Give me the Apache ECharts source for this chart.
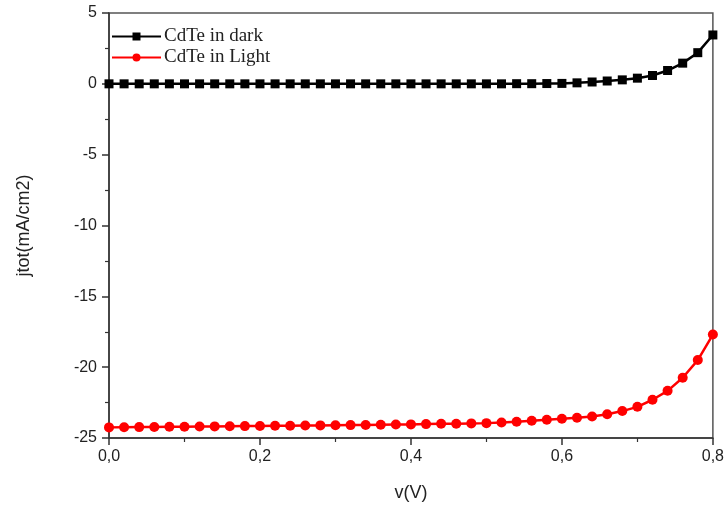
<!DOCTYPE html>
<html>
<head>
<meta charset="utf-8">
<script src="https://cdn.jsdelivr.net/npm/echarts@6/dist/echarts.min.js"></script>
<style>html,body{margin:0;padding:0;background:#fff}#c{width:727px;height:513px}</style>
</head>
<body>
<div id="c"></div>
<script>
const voltage = [0.00,0.02,0.04,0.06,0.08,0.10,0.12,0.14,0.16,0.18,0.20,0.22,0.24,0.26,0.28,0.30,0.32,0.34,0.36,0.38,0.40,0.42,0.44,0.46,0.48,0.50,0.52,0.54,0.56,0.58,0.60,0.62,0.64,0.66,0.68,0.70,0.72,0.74,0.76,0.78,0.80];
const darkJ = [0,0,0,0,0,0,0,0,0,0,0,0,0,0,0,0,0,0,0,0,0,0,0,0,0,0,0,0.01,0.01,0.02,0.03,0.07,0.13,0.2,0.28,0.4,0.59,0.94,1.46,2.2,3.45];
const lightJ = [-24.25,-24.24,-24.23,-24.22,-24.21,-24.2,-24.19,-24.18,-24.17,-24.16,-24.15,-24.14,-24.13,-24.12,-24.11,-24.1,-24.09,-24.08,-24.06,-24.05,-24.04,-24.02,-24.0,-23.99,-23.97,-23.95,-23.9,-23.85,-23.78,-23.71,-23.64,-23.57,-23.48,-23.32,-23.1,-22.8,-22.3,-21.67,-20.75,-19.5,-17.7];
const xTicks = {min:0, max:0.8, interval:0.2};
const yTicks = {min:-25, max:5, interval:5};
const seriesNames = ['CdTe in dark','CdTe in Light'];

const chart = echarts.init(document.getElementById('c'), null, {renderer:'canvas'});
const axisCol = '#333';
const pair = arr => voltage.map((v,i)=>[v,arr[i]]);
chart.setOption({
  animation:false,
  backgroundColor:'#fff',
  grid:{left:109,right:13,top:13,bottom:75,show:true,borderColor:'#555',borderWidth:1.5,backgroundColor:'transparent'},
  legend:{
    orient:'vertical', left:106, top:22, itemWidth:49, itemHeight:10, itemGap:2,
    textStyle:{fontFamily:'Liberation Serif', fontSize:19, color:'#222', padding:[0,0,0,-2]},
    data:seriesNames
  },
  xAxis:{
    type:'value', min:xTicks.min, max:xTicks.max, interval:xTicks.interval,
    name:'v(V)', nameLocation:'middle', nameGap:46,
    nameTextStyle:{fontFamily:'Liberation Sans', fontSize:18, color:'#222'},
    axisLine:{onZero:false,lineStyle:{color:axisCol,width:1.5}},
    axisTick:{length:7,lineStyle:{color:axisCol,width:1.5}},
    minorTick:{show:true,splitNumber:2,length:4,lineStyle:{color:axisCol,width:1.2}},
    splitLine:{show:false},
    axisLabel:{fontFamily:'Liberation Sans', fontSize:16, color:'#222', margin:11,
      formatter:v=>v.toFixed(1).replace('.',',')}
  },
  yAxis:{
    type:'value', min:yTicks.min, max:yTicks.max, interval:yTicks.interval,
    name:'jtot(mA/cm2)', nameLocation:'middle', nameGap:76, nameRotate:90,
    nameTextStyle:{fontFamily:'Liberation Sans', fontSize:18, color:'#222'},
    axisLine:{onZero:false,lineStyle:{color:axisCol,width:1.5}},
    axisTick:{length:7,lineStyle:{color:axisCol,width:1.5}},
    minorTick:{show:true,splitNumber:2,length:4,lineStyle:{color:axisCol,width:1.2}},
    splitLine:{show:false},
    axisLabel:{fontFamily:'Liberation Sans', fontSize:16, color:'#222', margin:12}
  },
  series:[
    {name:seriesNames[0], type:'line', data:pair(darkJ), symbol:'rect', symbolSize:9,
     itemStyle:{color:'#000'}, lineStyle:{color:'#000',width:2.5}, smooth:false},
    {name:seriesNames[1], type:'line', data:pair(lightJ), symbol:'circle', symbolSize:10,
     itemStyle:{color:'#f00'}, lineStyle:{color:'#f00',width:2.5}, smooth:false}
  ]
});
</script>
</body>
</html>
